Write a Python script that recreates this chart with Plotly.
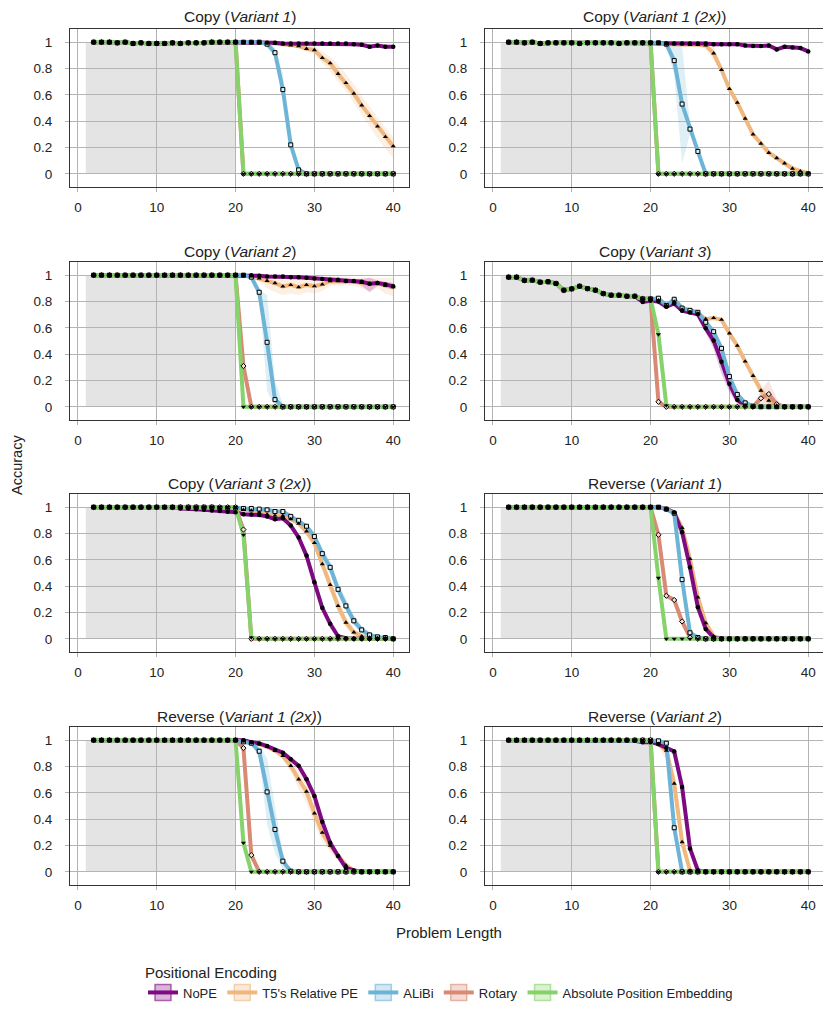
import plotly.graph_objects as go

# ---------------- data ----------------
problem_length = list(range(2, 41))          # x = 2 .. 40
train_range = [1, 20]                          # shaded in-distribution lengths
x_ticks = [0, 10, 20, 30, 40]
y_ticks = [0, 0.2, 0.4, 0.6, 0.8, 1]

series = ["NoPE", "T5's Relative PE", "ALiBi", "Rotary", "Absolute Position Embedding"]
colors = {"NoPE": "#7e0a82", "T5's Relative PE": "#f0b77f", "ALiBi": "#6db4d6",
          "Rotary": "#d98a74", "Absolute Position Embedding": "#86d26b"}

titles = ["Copy (<i>Variant 1</i>)", "Copy (<i>Variant 1 (2x)</i>)",
          "Copy (<i>Variant 2</i>)", "Copy (<i>Variant 3</i>)",
          "Copy (<i>Variant 3 (2x)</i>)", "Reverse (<i>Variant 1</i>)",
          "Reverse (<i>Variant 1 (2x)</i>)", "Reverse (<i>Variant 2</i>)"]

# --- Copy (Variant 1) ---
c1_head = [1, 1, 1, 0.995, 1, 0.99, 0.995, 0.99, 0.99, 0.99, 0.995, 0.99, 0.995, 0.995, 0.995, 1, 1, 1, 1]
c1_nope = c1_head + [1, 1, 1, 0.995, 0.995, 0.99, 0.99, 0.99, 0.99, 0.99, 0.99, 0.99, 0.99, 0.99, 0.985, 0.98, 0.965, 0.975, 0.965, 0.965]
c1_t5 = c1_head + [1, 1, 1, 0.995, 0.99, 0.985, 0.975, 0.97, 0.95, 0.94, 0.88, 0.84, 0.76, 0.69, 0.61, 0.52, 0.44, 0.36, 0.28, 0.21]
c1_alibi = c1_head + [1, 1, 1, 0.985, 0.92, 0.64, 0.22, 0.03, 0, 0, 0, 0, 0, 0, 0, 0, 0, 0, 0, 0]
c1_rotary = c1_head + [0, 0, 0, 0, 0, 0, 0, 0, 0, 0, 0, 0, 0, 0, 0, 0, 0, 0, 0, 0]
c1_abs = c1_head + [0, 0, 0, 0, 0, 0, 0, 0, 0, 0, 0, 0, 0, 0, 0, 0, 0, 0, 0, 0]
c1_t5_band_x = [28, 29, 30, 31, 32, 33, 34, 35, 36, 37, 38, 39, 40]
c1_t5_band_lo = [0.96, 0.93, 0.91, 0.84, 0.78, 0.70, 0.63, 0.54, 0.45, 0.36, 0.27, 0.19, 0.12]
c1_t5_band_hi = [0.98, 0.97, 0.97, 0.93, 0.89, 0.83, 0.76, 0.68, 0.59, 0.51, 0.43, 0.35, 0.28]
c1_alibi_band_x = [24, 25, 26, 27, 28]
c1_alibi_band_lo = [0.97, 0.88, 0.55, 0.18, 0.0]
c1_alibi_band_hi = [1.0, 0.96, 0.76, 0.26, 0.05]

# --- Copy (Variant 1 (2x)) ---
c2_head = [1, 1, 0.995, 1, 0.99, 0.995, 0.995, 0.995, 0.995, 0.99, 0.995, 0.995, 0.995, 0.995, 0.99, 0.995, 0.995, 0.995, 0.995]
c2_nope = c2_head + [0.995, 0.99, 0.99, 0.99, 0.99, 0.99, 0.99, 0.985, 0.985, 0.985, 0.985, 0.975, 0.97, 0.97, 0.975, 0.945, 0.965, 0.96, 0.955, 0.93]
c2_t5 = c2_head + [0.99, 0.985, 0.985, 0.985, 0.98, 0.98, 0.975, 0.915, 0.79, 0.645, 0.54, 0.42, 0.30, 0.23, 0.16, 0.12, 0.08, 0.04, 0.02, 0.005]
c2_alibi = c2_head + [0.995, 0.985, 0.86, 0.53, 0.34, 0.17, 0, 0, 0, 0, 0, 0, 0, 0, 0, 0, 0, 0, 0, 0]
c2_rotary = c2_head + [0, 0, 0, 0, 0, 0, 0, 0, 0, 0, 0, 0, 0, 0, 0, 0, 0, 0, 0, 0]
c2_abs = c2_head + [0, 0, 0, 0, 0, 0, 0, 0, 0, 0, 0, 0, 0, 0, 0, 0, 0, 0, 0, 0]
c2_t5_band_x = [26, 27, 28, 29, 30, 31, 32, 33, 34, 35, 36, 37, 38, 39, 40]
c2_t5_band_lo = [0.97, 0.95, 0.86, 0.77, 0.63, 0.53, 0.41, 0.29, 0.22, 0.15, 0.11, 0.07, 0.02, 0.0, 0.0]
c2_t5_band_hi = [0.99, 1.0, 0.97, 0.81, 0.66, 0.55, 0.43, 0.31, 0.24, 0.17, 0.13, 0.09, 0.07, 0.04, 0.02]
c2_alibi_band_x = [22, 23, 24, 25, 26]
c2_alibi_band_lo = [0.97, 0.75, 0.08, 0.30, 0.15]
c2_alibi_band_hi = [1.0, 0.97, 0.97, 0.38, 0.19]

# --- Copy (Variant 2) ---
c3_head = [1, 1, 1, 1, 1, 1, 1, 1, 1, 1, 1, 1, 1, 1, 1, 1, 1, 1, 1]
c3_nope = c3_head + [1, 1, 0.995, 0.99, 0.99, 0.99, 0.985, 0.985, 0.98, 0.975, 0.97, 0.965, 0.965, 0.955, 0.955, 0.95, 0.935, 0.94, 0.93, 0.915]
c3_t5 = c3_head + [1, 0.99, 0.975, 0.957, 0.94, 0.914, 0.926, 0.909, 0.926, 0.916, 0.93, 0.954, 0.954, 0.952, 0.95, 0.942, 0.934, 0.942, 0.92, 0.91]
c3_alibi = c3_head + [1, 0.985, 0.87, 0.49, 0.055, 0, 0, 0, 0, 0, 0, 0, 0, 0, 0, 0, 0, 0, 0, 0]
c3_rotary = c3_head + [0.31, 0, 0, 0, 0, 0, 0, 0, 0, 0, 0, 0, 0, 0, 0, 0, 0, 0, 0, 0]
c3_abs = c3_head + [0, 0, 0, 0, 0, 0, 0, 0, 0, 0, 0, 0, 0, 0, 0, 0, 0, 0, 0, 0]
c3_nope_band_x = [34, 35, 36, 37, 38, 39, 40]
c3_nope_band_lo = [0.94, 0.94, 0.92, 0.87, 0.92, 0.91, 0.89]
c3_nope_band_hi = [0.97, 0.97, 0.97, 0.98, 0.96, 0.95, 0.94]
c3_t5_band_x = [22, 23, 24, 25, 26, 27, 28, 29, 30, 31, 32, 33, 34, 35, 36, 37, 38, 39, 40]
c3_t5_band_lo = [0.98, 0.95, 0.90, 0.87, 0.85, 0.86, 0.85, 0.87, 0.86, 0.88, 0.92, 0.92, 0.92, 0.92, 0.9, 0.88, 0.9, 0.86, 0.84]
c3_t5_band_hi = [1, 1, 1, 1, 0.99, 0.98, 0.98, 0.98, 0.98, 0.98, 0.99, 0.99, 0.99, 0.98, 0.98, 0.98, 0.98, 0.98, 0.98]
c3_alibi_band_x = [23, 24, 25, 26]
c3_alibi_band_lo = [0.85, 0.12, 0.0, 0.0]
c3_alibi_band_hi = [0.89, 0.85, 0.2, 0.02]

# --- Copy (Variant 3) ---
c4_head = [0.985, 0.985, 0.96, 0.962, 0.947, 0.95, 0.937, 0.886, 0.896, 0.916, 0.898, 0.886, 0.86, 0.848, 0.848, 0.84, 0.84]
c4_nope = c4_head + [0.797, 0.805, 0.80, 0.76, 0.785, 0.73, 0.716, 0.703, 0.596, 0.503, 0.343, 0.175, 0.053, 0.01, 0, 0, 0, 0, 0, 0, 0, 0]
c4_t5 = c4_head + [0.82, 0.82, 0.81, 0.77, 0.80, 0.74, 0.72, 0.71, 0.667, 0.675, 0.662, 0.558, 0.464, 0.345, 0.236, 0.124, 0.048, 0.01, 0, 0, 0, 0]
c4_alibi = c4_head + [0.82, 0.82, 0.825, 0.77, 0.817, 0.75, 0.733, 0.718, 0.642, 0.571, 0.444, 0.23, 0.094, 0.03, 0.005, 0, 0, 0, 0, 0, 0, 0]
c4_rotary = c4_head + [0.82, 0.82, 0.038, 0, 0, 0, 0, 0, 0, 0, 0, 0, 0, 0, 0, 0.065, 0.097, 0.02, 0, 0, 0, 0]
c4_abs = c4_head + [0.82, 0.82, 0.55, 0.01, 0, 0, 0, 0, 0, 0, 0, 0, 0, 0, 0, 0, 0, 0, 0, 0, 0, 0]
c4_nope_band_x = [26, 27, 28, 29, 30, 31, 32]
c4_nope_band_lo = [0.69, 0.56, 0.44, 0.25, 0.11, 0.02, 0.0]
c4_nope_band_hi = [0.71, 0.62, 0.54, 0.40, 0.22, 0.08, 0.02]
c4_t5_band_x = [32, 33, 34, 35, 36, 37]
c4_t5_band_lo = [0.33, 0.21, 0.08, 0.02, 0.0, 0.0]
c4_t5_band_hi = [0.36, 0.26, 0.17, 0.08, 0.03, 0.01]
c4_rotary_band_x = [20, 21, 22, 33, 34, 35, 36, 37]
c4_rotary_band_lo = [0.80, 0.0, 0.0, 0.0, 0.02, 0.0, 0.0, 0.0]
c4_rotary_band_hi = [0.82, 0.08, 0.0, 0.02, 0.12, 0.2, 0.06, 0.0]

# --- Copy (Variant 3 (2x)) ---
c5_head = [1, 1, 1, 1, 1, 1, 1, 1, 1, 1, 1]
c5_nope = c5_head + [0.99, 0.99, 0.985, 0.98, 0.975, 0.97, 0.965, 0.962, 0.947, 0.945, 0.94, 0.93, 0.909, 0.915, 0.86, 0.77, 0.632, 0.43, 0.236, 0.114, 0.02, 0.005, 0, 0, 0, 0, 0, 0]
c5_t5 = c5_head + [1, 1, 1, 1, 1, 0.995, 0.995, 0.995, 0.98, 0.975, 0.96, 0.945, 0.935, 0.935, 0.91, 0.875, 0.817, 0.728, 0.568, 0.41, 0.25, 0.124, 0.05, 0.02, 0.01, 0, 0, 0]
c5_alibi = c5_head + [1, 1, 1, 1, 1, 0.995, 0.995, 0.995, 0.99, 0.99, 0.985, 0.98, 0.967, 0.967, 0.93, 0.9, 0.855, 0.777, 0.647, 0.543, 0.376, 0.25, 0.137, 0.068, 0.03, 0.015, 0.01, 0]
c5_rotary = c5_head + [1, 1, 1, 1, 1, 1, 1, 1, 0.83, 0, 0, 0, 0, 0, 0, 0, 0, 0, 0, 0, 0, 0, 0, 0, 0, 0, 0, 0]
c5_abs = c5_head + [1, 1, 1, 1, 1, 1, 1, 1, 0.79, 0.01, 0, 0, 0, 0, 0, 0, 0, 0, 0, 0, 0, 0, 0, 0, 0, 0, 0, 0]
c5_t5_band_x = [28, 29, 30, 31, 32, 33, 34, 35, 36]
c5_t5_band_lo = [0.85, 0.78, 0.69, 0.52, 0.36, 0.2, 0.08, 0.02, 0.0]
c5_t5_band_hi = [0.9, 0.85, 0.77, 0.61, 0.46, 0.3, 0.17, 0.08, 0.04]
c5_alibi_band_x = [29, 30, 31, 32, 33, 34, 35, 36, 37]
c5_alibi_band_lo = [0.83, 0.74, 0.6, 0.49, 0.33, 0.21, 0.1, 0.04, 0.01]
c5_alibi_band_hi = [0.88, 0.81, 0.69, 0.59, 0.43, 0.3, 0.18, 0.1, 0.05]

# --- Reverse (Variant 1) ---
r1_head = [1, 1, 1, 1, 1, 1, 1, 1, 1, 1, 1, 1, 1, 1, 1, 1, 1, 1, 1]
r1_nope = r1_head + [1, 0.985, 0.96, 0.81, 0.543, 0.24, 0.075, 0.01, 0, 0, 0, 0, 0, 0, 0, 0, 0, 0, 0, 0]
r1_t5 = r1_head + [1, 0.99, 0.96, 0.843, 0.607, 0.315, 0.12, 0.02, 0, 0, 0, 0, 0, 0, 0, 0, 0, 0, 0, 0]
r1_alibi = r1_head + [1, 0.985, 0.954, 0.45, 0.046, 0.01, 0, 0, 0, 0, 0, 0, 0, 0, 0, 0, 0, 0, 0, 0]
r1_rotary = r1_head + [0.79, 0.327, 0.295, 0.132, 0.01, 0, 0, 0, 0, 0, 0, 0, 0, 0, 0, 0, 0, 0, 0, 0]
r1_abs = r1_head + [0.462, 0, 0, 0, 0, 0, 0, 0, 0, 0, 0, 0, 0, 0, 0, 0, 0, 0, 0, 0]
r1_t5_band_x = [23, 24, 25, 26, 27, 28]
r1_t5_band_lo = [0.94, 0.8, 0.56, 0.27, 0.09, 0.0]
r1_t5_band_hi = [0.98, 0.88, 0.66, 0.36, 0.15, 0.04]

# --- Reverse (Variant 1 (2x)) ---
r2_head = [1, 1, 1, 1, 1, 1, 1, 1, 1, 1, 1, 1, 1, 1, 1, 1, 1, 1, 1]
r2_nope = r2_head + [1, 0.985, 0.975, 0.955, 0.926, 0.905, 0.855, 0.805, 0.703, 0.576, 0.38, 0.22, 0.12, 0.03, 0.01, 0, 0, 0, 0, 0]
r2_t5 = r2_head + [0.99, 0.98, 0.97, 0.95, 0.92, 0.88, 0.805, 0.703, 0.61, 0.444, 0.297, 0.2, 0.12, 0.05, 0.01, 0, 0, 0, 0, 0]
r2_alibi = r2_head + [0.987, 0.977, 0.916, 0.607, 0.322, 0.081, 0.005, 0, 0, 0, 0, 0, 0, 0, 0, 0, 0, 0, 0, 0]
r2_rotary = r2_head + [0.94, 0.127, 0, 0, 0, 0, 0, 0, 0, 0, 0, 0, 0, 0, 0, 0, 0, 0, 0, 0]
r2_abs = r2_head + [0.22, 0, 0, 0, 0, 0, 0, 0, 0, 0, 0, 0, 0, 0, 0, 0, 0, 0, 0, 0]
r2_t5_band_x = [26, 27, 28, 29, 30, 31, 32, 33, 34, 35]
r2_t5_band_lo = [0.85, 0.76, 0.63, 0.52, 0.36, 0.23, 0.15, 0.09, 0.03, 0.0]
r2_t5_band_hi = [0.91, 0.84, 0.77, 0.69, 0.52, 0.36, 0.25, 0.15, 0.07, 0.02]
r2_alibi_band_x = [22, 23, 24, 25, 26, 27]
r2_alibi_band_lo = [0.97, 0.86, 0.36, 0.14, 0.02, 0.0]
r2_alibi_band_hi = [0.99, 0.97, 0.86, 0.5, 0.14, 0.01]

# --- Reverse (Variant 2) ---
r3_head = [1, 1, 1, 1, 1, 1, 1, 1, 1, 1, 1, 1, 1, 1, 1, 1]
r3_nope = r3_head + [0.995, 0.985, 0.985, 0.97, 0.94, 0.914, 0.645, 0.178, 0.01, 0, 0, 0, 0, 0, 0, 0, 0, 0, 0, 0, 0, 0, 0]
r3_t5 = r3_head + [1, 0.995, 0.99, 0.97, 0.92, 0.67, 0.226, 0.01, 0, 0, 0, 0, 0, 0, 0, 0, 0, 0, 0, 0, 0, 0, 0]
r3_alibi = r3_head + [1, 1, 1, 0.995, 0.977, 0.335, 0, 0, 0, 0, 0, 0, 0, 0, 0, 0, 0, 0, 0, 0, 0, 0, 0]
r3_rotary = r3_head + [1, 1, 1, 0, 0, 0, 0, 0, 0, 0, 0, 0, 0, 0, 0, 0, 0, 0, 0, 0, 0, 0, 0]
r3_abs = r3_head + [1, 1, 1, 0, 0, 0, 0, 0, 0, 0, 0, 0, 0, 0, 0, 0, 0, 0, 0, 0, 0, 0, 0]
r3_t5_band_x = [21, 22, 23, 24, 25]
r3_t5_band_lo = [0.95, 0.85, 0.6, 0.18, 0.0]
r3_t5_band_hi = [0.99, 1.0, 0.74, 0.27, 0.02]
r3_alibi_band_x = [22, 23, 24]
r3_alibi_band_lo = [0.97, 0.25, 0.0]
r3_alibi_band_hi = [0.98, 0.45, 0.03]

panels = [
    ([c1_nope, c1_t5, c1_alibi, c1_rotary, c1_abs],
     {"T5's Relative PE": (c1_t5_band_x, c1_t5_band_lo, c1_t5_band_hi),
      "ALiBi": (c1_alibi_band_x, c1_alibi_band_lo, c1_alibi_band_hi)}),
    ([c2_nope, c2_t5, c2_alibi, c2_rotary, c2_abs],
     {"T5's Relative PE": (c2_t5_band_x, c2_t5_band_lo, c2_t5_band_hi),
      "ALiBi": (c2_alibi_band_x, c2_alibi_band_lo, c2_alibi_band_hi)}),
    ([c3_nope, c3_t5, c3_alibi, c3_rotary, c3_abs],
     {"NoPE": (c3_nope_band_x, c3_nope_band_lo, c3_nope_band_hi),
      "T5's Relative PE": (c3_t5_band_x, c3_t5_band_lo, c3_t5_band_hi),
      "ALiBi": (c3_alibi_band_x, c3_alibi_band_lo, c3_alibi_band_hi)}),
    ([c4_nope, c4_t5, c4_alibi, c4_rotary, c4_abs],
     {"NoPE": (c4_nope_band_x, c4_nope_band_lo, c4_nope_band_hi),
      "T5's Relative PE": (c4_t5_band_x, c4_t5_band_lo, c4_t5_band_hi),
      "Rotary": (c4_rotary_band_x, c4_rotary_band_lo, c4_rotary_band_hi)}),
    ([c5_nope, c5_t5, c5_alibi, c5_rotary, c5_abs],
     {"T5's Relative PE": (c5_t5_band_x, c5_t5_band_lo, c5_t5_band_hi),
      "ALiBi": (c5_alibi_band_x, c5_alibi_band_lo, c5_alibi_band_hi)}),
    ([r1_nope, r1_t5, r1_alibi, r1_rotary, r1_abs],
     {"T5's Relative PE": (r1_t5_band_x, r1_t5_band_lo, r1_t5_band_hi)}),
    ([r2_nope, r2_t5, r2_alibi, r2_rotary, r2_abs],
     {"T5's Relative PE": (r2_t5_band_x, r2_t5_band_lo, r2_t5_band_hi),
      "ALiBi": (r2_alibi_band_x, r2_alibi_band_lo, r2_alibi_band_hi)}),
    ([r3_nope, r3_t5, r3_alibi, r3_rotary, r3_abs],
     {"T5's Relative PE": (r3_t5_band_x, r3_t5_band_lo, r3_t5_band_hi),
      "ALiBi": (r3_alibi_band_x, r3_alibi_band_lo, r3_alibi_band_hi)}),
]

# ---------------- styling ----------------
FONT = "Liberation Sans, Arial, sans-serif"
GRID = "#b4b4b4"
markers = {
    "NoPE": dict(symbol="circle", size=4.5, color="black"),
    "T5's Relative PE": dict(symbol="triangle-up", size=4.5, color="black"),
    "ALiBi": dict(symbol="square", size=4, color="#dcedf5", line=dict(color="black", width=1)),
    "Rotary": dict(symbol="diamond", size=4, color="#f3ddd6", line=dict(color="black", width=1)),
    "Absolute Position Embedding": dict(symbol="triangle-down", size=4.5, color="black"),
}
line_order = ["T5's Relative PE", "NoPE", "Rotary", "ALiBi", "Absolute Position Embedding"]
marker_order = ["ALiBi", "Rotary", "T5's Relative PE", "Absolute Position Embedding", "NoPE"]


def rgba(hexc, a):
    h = hexc.lstrip("#")
    return "rgba(%d,%d,%d,%s)" % (int(h[0:2], 16), int(h[2:4], 16), int(h[4:6], 16), a)


# the page body has an 8px margin, so the figure is laid out in coordinates shifted by 8px
W, H = 823, 1012
col_px = [(62, 401), (477, 816)]
row_px = [(21, 179), (254, 412), (486, 644), (719, 877)]
title_px = [9, 243, 475, 708]

fig = go.Figure()
layout = dict(width=W, height=H, margin=dict(l=0, r=0, t=0, b=0, autoexpand=False),
              paper_bgcolor="white", plot_bgcolor="white",
              font=dict(family=FONT, size=13, color="#222"),
              showlegend=True, shapes=[], annotations=[])

for i, (vals, bands) in enumerate(panels):
    r, c = divmod(i, 2)
    n = "" if i == 0 else str(i + 1)
    xa, ya = "x" + n, "y" + n
    x0, x1 = col_px[c]
    yt, yb = row_px[r]
    axis_common = dict(showgrid=True, gridcolor=GRID, gridwidth=1.4, zeroline=False,
                       showline=True, mirror=True, linecolor="#333", linewidth=1,
                       ticks="outside", ticklen=4, tickcolor=GRID, tickwidth=1.4,
                       automargin=False, tickfont=dict(size=13.5, color="#222"))
    layout["xaxis" + n] = dict(domain=[x0 / W, x1 / W], range=[-1, 42], tickvals=x_ticks,
                               anchor=ya, ticklabelstandoff=4, **axis_common)
    layout["yaxis" + n] = dict(domain=[1 - yb / H, 1 - yt / H], range=[-0.1, 1.1], tickvals=y_ticks,
                               anchor=xa, ticklabelstandoff=10, **axis_common)
    layout["shapes"].append(dict(type="rect", xref=xa, yref=ya, x0=train_range[0], x1=train_range[1],
                                 y0=0, y1=1, fillcolor="#e4e4e4", line=dict(width=0), layer="below"))
    layout["annotations"].append(dict(text=titles[i], xref="paper", yref="paper",
                                      x=(x0 + x1) / 2 / W, y=1 - title_px[r] / H,
                                      xanchor="center", yanchor="middle", showarrow=False,
                                      font=dict(size=15.5, color="#222")))
    data = dict(zip(series, vals))
    # confidence bands
    for s in line_order:
        if s in bands:
            bx, lo, hi = bands[s]
            fig.add_trace(go.Scatter(x=bx + bx[::-1], y=hi + lo[::-1], fill="toself",
                                     fillcolor=rgba(colors[s], 0.22), line=dict(width=0),
                                     mode="lines", hoverinfo="skip", showlegend=False,
                                     xaxis=xa, yaxis=ya))
    # mean lines
    for s in line_order:
        fig.add_trace(go.Scatter(x=problem_length, y=data[s], mode="lines", name=s,
                                 line=dict(color=colors[s], width=4),
                                 showlegend=False, xaxis=xa, yaxis=ya))
    # point markers on top
    for s in marker_order:
        fig.add_trace(go.Scatter(x=problem_length, y=data[s], mode="markers", name=s,
                                 marker=markers[s], showlegend=False, xaxis=xa, yaxis=ya))

# legend entries (swatch box with line through it)
for k, s in enumerate(series):
    fig.add_trace(go.Scatter(x=[None], y=[None], mode="lines+markers", name=s,
                             line=dict(color=colors[s], width=4),
                             marker=dict(symbol="square", size=16, color=rgba(colors[s], 0.3),
                                         line=dict(color=rgba(colors[s], 0.6), width=1.5)),
                             legendrank=k + 1, showlegend=True, xaxis="x", yaxis="y"))

layout["annotations"].append(dict(text="Accuracy", xref="paper", yref="paper", x=9 / W, y=1 - 457 / H,
                                  textangle=-90, showarrow=False, xanchor="center", yanchor="middle",
                                  font=dict(size=14.5, color="#222")))
layout["annotations"].append(dict(text="Problem Length", xref="paper", yref="paper", x=441 / W, y=1 - 924 / H,
                                  showarrow=False, xanchor="center", yanchor="middle",
                                  font=dict(size=15, color="#222")))
layout["legend"] = dict(orientation="h", x=135 / W, xanchor="left", y=1 - 950 / H, yanchor="top",
                        title=dict(text="Positional Encoding", side="top", font=dict(size=15)),
                        font=dict(size=13), bgcolor="rgba(0,0,0,0)", traceorder="normal",
                        itemwidth=30)

fig.update_layout(**layout)
fig.write_html("out.html")
